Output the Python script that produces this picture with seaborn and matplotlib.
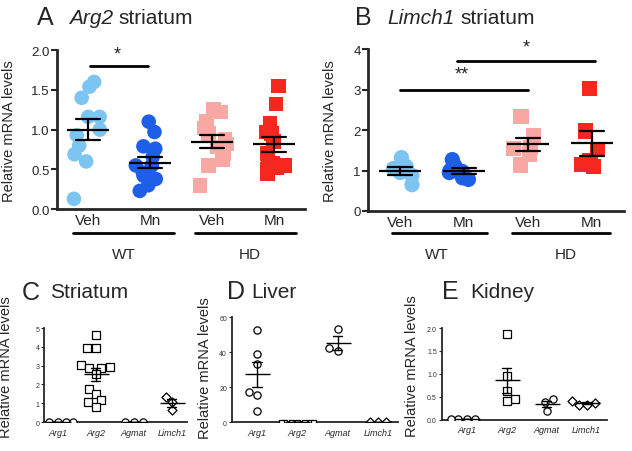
import numpy as np
import pandas as pd
import matplotlib
matplotlib.use('Agg')
import matplotlib.pyplot as plt
import seaborn as sns

sns.set_style('ticks')
plt.rcParams['font.family'] = ['Liberation Sans', 'DejaVu Sans']

# ---- Données ----
groupes = ['WT Veh', 'WT Mn', 'HD Veh', 'HD Mn']
etiquettes_ab = ['Veh', 'Mn', 'Veh', 'Mn']
couleurs = {'WT Veh': '#7CC4F2', 'WT Mn': '#1F5FE8',
            'HD Veh': '#F8A8A2', 'HD Mn': '#F5281F'}

# A - Arg2 striatum
arg2_wt_veh = [1.54, 1.60, 1.40, 1.16, 1.16, 1.00, 0.93, 0.80, 0.69, 0.60, 0.13]
arg2_wt_mn = [1.10, 0.97, 0.79, 0.76, 0.66, 0.55, 0.55, 0.46, 0.44, 0.42, 0.38, 0.30, 0.23]
arg2_hd_veh = [1.25, 1.22, 1.10, 1.02, 0.95, 0.88, 0.82, 0.78, 0.70, 0.62, 0.55, 0.30]
arg2_hd_mn = [1.55, 1.32, 1.08, 0.97, 0.95, 0.85, 0.70, 0.62, 0.58, 0.55, 0.52, 0.50, 0.45]

# B - Limch1 striatum
limch1_wt_veh = [1.32, 1.10, 1.05, 0.95, 0.88, 0.65]
limch1_wt_mn = [1.27, 1.12, 1.00, 0.98, 0.95, 0.82, 0.78]
limch1_hd_veh = [2.34, 1.86, 1.57, 1.55, 1.41, 1.14]
limch1_hd_mn = [3.02, 1.98, 1.52, 1.25, 1.15, 1.10]

# C, D, E - tissus
genes = ['Arg1', 'Arg2', 'Agmat', 'Limch1']
marqueurs = {'Arg1': 'o', 'Arg2': 's', 'Agmat': 'o', 'Limch1': 'D'}

striatum = {'Arg1': [0, 0, 0, 0],
            'Arg2': [4.65, 3.95, 3.92, 3.05, 2.95, 2.90, 2.85, 2.55, 1.78, 1.50, 1.15, 1.05, 0.80],
            'Agmat': [0, 0, 0],
            'Limch1': [1.32, 1.06, 0.62]}
foie = {'Arg1': [52.9, 38.9, 33.1, 17.4, 15.5, 6.3],
        'Arg2': [0, 0, 0, 0, 0, 0, 0],
        'Agmat': [53.3, 40.8, 42.1],
        'Limch1': [0, 0, 0]}
rein = {'Arg1': [0.02, 0.02, 0.02, 0.02],
        'Arg2': [1.88, 0.96, 0.62, 0.45, 0.42],
        'Agmat': [0.45, 0.38, 0.20],
        'Limch1': [0.42, 0.36, 0.33, 0.33]}


def long_df(dico, ordre):
    lignes = [(g, v) for g in ordre for v in dico[g]]
    return pd.DataFrame(lignes, columns=['groupe', 'valeur'])


fig = plt.figure(figsize=(6.32, 4.52), dpi=100)
axA = fig.add_axes([0.090, 0.535, 0.393, 0.352])
axB = fig.add_axes([0.582, 0.531, 0.405, 0.358])
axC = fig.add_axes([0.070, 0.064, 0.226, 0.208])
axD = fig.add_axes([0.367, 0.064, 0.263, 0.232])
axE = fig.add_axes([0.699, 0.069, 0.261, 0.203])


def panneau_haut(ax, donnees, ylim, yticks, fmt, taille):
    df = long_df(donnees, groupes)
    np.random.seed(3)
    for forme, sous in [('o', groupes[:2]), ('s', groupes[2:])]:
        sns.stripplot(data=df[df['groupe'].isin(sous)], x='groupe', y='valeur',
                      hue='groupe', order=groupes, palette=couleurs, marker=forme,
                      size=taille, linewidth=0, jitter=0.24, legend=False, ax=ax,
                      zorder=2)
    sns.pointplot(data=df, x='groupe', y='valeur', order=groupes, errorbar='se',
                  capsize=0.38, markers='_', linestyles='none', color='black',
                  markersize=30, markeredgewidth=1.6, err_kws={'linewidth': 1.6},
                  ax=ax, zorder=5)
    ax.set_xlim(-0.5, 3.5)
    ax.set_ylim(*ylim)
    ax.set_yticks(yticks)
    ax.set_yticklabels([fmt.format(t) for t in yticks], fontsize=9.5)
    ax.set_xticks(range(4))
    ax.set_xticklabels(etiquettes_ab, fontsize=11)
    ax.tick_params(axis='x', length=0, pad=3)
    ax.tick_params(axis='y', length=4, width=1.5, pad=1)
    for s in ['left', 'bottom']:
        ax.spines[s].set_linewidth(2)
    sns.despine(ax=ax)
    ax.set_xlabel('')
    ax.set_ylabel('Relative mRNA levels', fontsize=10.5)


panneau_haut(axA, dict(zip(groupes, [arg2_wt_veh, arg2_wt_mn, arg2_hd_veh, arg2_hd_mn])),
             (0, 2.0), [0, 0.5, 1.0, 1.5, 2.0], '{:.1f}', 10.5)
panneau_haut(axB, dict(zip(groupes, [limch1_wt_veh, limch1_wt_mn, limch1_hd_veh, limch1_hd_mn])),
             (0, 4), [0, 1, 2, 3, 4], '{:d}', 11)
axA.yaxis.set_label_coords(-0.165, 0.5)
axB.yaxis.set_label_coords(-0.12, 0.5)

# barres de groupe WT / HD
for ax, yl, yt, seg in [(axA, -0.15, -0.28, [(-0.24, 1.39, 0.57), (1.73, 3.35, 2.6)]),
                        (axB, -0.136, -0.265, [(-0.12, 1.36, 0.58), (1.75, 3.28, 2.6)])]:
    tr = ax.get_xaxis_transform()
    for (x0, x1, xc), nom in zip(seg, ['WT', 'HD']):
        ax.plot([x0, x1], [yl, yl], color='black', lw=2, transform=tr, clip_on=False)
        ax.text(xc, yt, nom, transform=tr, ha='center', va='center', fontsize=11)

# significativité
axA.plot([0.03, 0.97], [1.8, 1.8], color='black', lw=2)
axA.text(0.47, 1.84, '*', ha='center', va='bottom', fontsize=13)
axB.plot([0.0, 2.0], [3.0, 3.0], color='black', lw=2)
axB.text(0.97, 3.17, '**', ha='center', va='bottom', fontsize=13)
axB.plot([0.9, 3.05], [3.7, 3.7], color='black', lw=2)
axB.text(1.98, 3.85, '*', ha='center', va='bottom', fontsize=13)


def panneau_bas(ax, donnees, ylim, yticks, fmt, xlim):
    df = long_df(donnees, genes)
    for g in genes:
        sous = df[df['groupe'] == g]
        taille = 5.2 if marqueurs[g] != 'D' else 4.6
        if ylim[1] == 60 and g == 'Arg2':
            taille = 3.6
        sns.swarmplot(data=sous, x='groupe', y='valeur', order=genes,
                      marker=marqueurs[g], color='white', edgecolor='black',
                      linewidth=0.9, size=taille, ax=ax, zorder=3, warn_thresh=1)
    sns.pointplot(data=df, x='groupe', y='valeur', order=genes, errorbar='se',
                  capsize=0.24, markers='_', linestyles='none', color='black',
                  markersize=18, markeredgewidth=1.0, err_kws={'linewidth': 1.0},
                  ax=ax, zorder=5)
    ax.set_xlim(*xlim)
    ax.set_ylim(*ylim)
    ax.set_yticks(yticks)
    ax.set_yticklabels([fmt.format(t) for t in yticks], fontsize=5, color='#333333')
    ax.set_xticks(range(4))
    ax.set_xticklabels(genes, fontsize=6.5, style='italic')
    ax.tick_params(axis='x', length=0, pad=4)
    ax.tick_params(axis='y', length=2.5, width=0.8, pad=1)
    for s in ['left', 'bottom']:
        ax.spines[s].set_linewidth(1.3)
    sns.despine(ax=ax)
    ax.set_xlabel('')
    ax.set_ylabel('Relative mRNA levels', fontsize=10.5)


panneau_bas(axC, striatum, (0, 5), [0, 1, 2, 3, 4, 5], '{:d}', (-0.35, 3.4))
panneau_bas(axD, foie, (0, 60), [0, 20, 40, 60], '{:d}', (-0.62, 3.5))
panneau_bas(axE, rein, (0, 2.0), [0, 0.5, 1.0, 1.5, 2.0], '{:.1f}', (-0.62, 3.5))
axC.yaxis.set_label_coords(-0.22, 0.6)
axD.yaxis.set_label_coords(-0.12, 0.52)
axE.yaxis.set_label_coords(-0.14, 0.6)

# titres
titres = [(37, 18, 'A', 69, 'Arg2', 118, 'striatum'),
          (355, 18, 'B', 387, 'Limch1', 460, 'striatum'),
          (22, 293, 'C', None, None, 50, 'Striatum'),
          (227, 292, 'D', None, None, 251, 'Liver'),
          (442, 292, 'E', None, None, 470, 'Kidney')]
W, H = 632, 452
for xl, y, lettre, xi, ital, xs, reste in titres:
    fig.text(xl / W, 1 - y / H, lettre, fontsize=18, va='center', ha='left')
    if ital:
        fig.text(xi / W, 1 - y / H, ital, fontsize=15, style='italic', va='center', ha='left')
    fig.text(xs / W, 1 - y / H, reste, fontsize=15, va='center', ha='left')

fig.savefig('out.png', dpi=100)
